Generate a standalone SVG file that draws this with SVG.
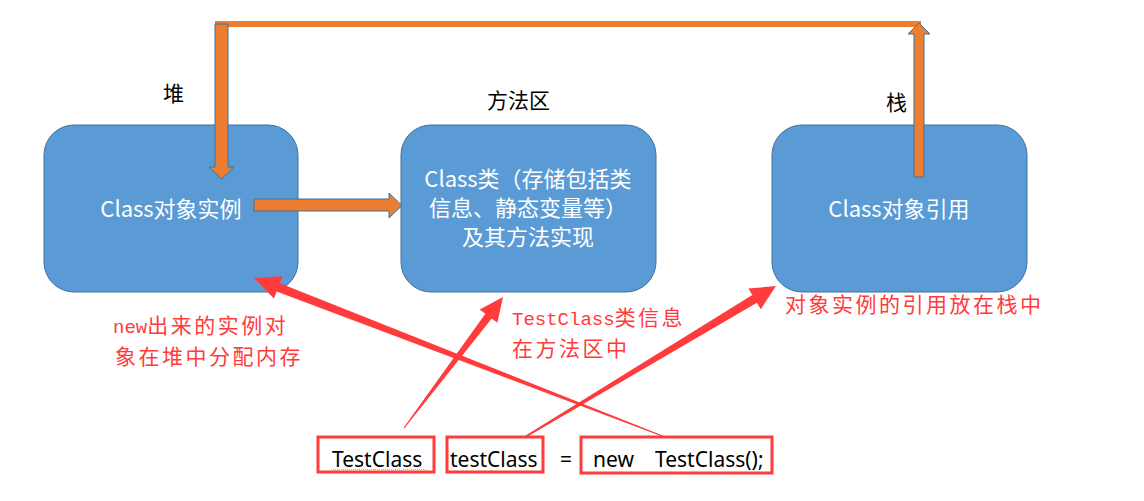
<svg xmlns="http://www.w3.org/2000/svg" width="1144" height="501" viewBox="0 0 1144 501">
<style>
.box{fill:#5B9BD5;stroke:#41719C;stroke-width:1}
.bt{font-family:"Noto Sans CJK SC","Noto Sans",sans-serif;font-size:22px;fill:#FFFFFF;text-anchor:middle}
.lbl{font-family:"Noto Sans CJK SC",sans-serif;font-size:21px;fill:#000000}
.rt{font-family:"Noto Sans CJK SC",sans-serif;font-size:21px;fill:#FF3B3B;letter-spacing:2.5px}
.mono{font-family:"Liberation Mono",monospace;font-size:19px;letter-spacing:0}
.code{font-family:"Noto Sans","Noto Sans CJK SC",sans-serif;font-size:21px;fill:#000000}
.cb{fill:none;stroke:#FF3B3B;stroke-width:3}
.oa{fill:#ED7D31;stroke:#41719C;stroke-width:1}
.ra{fill:#FF3B3B;stroke:none}
</style>
<rect width="1144" height="501" fill="#FFFFFF"/>
<g id="node-heap">
<rect class="box" x="44" y="125" width="254" height="167" rx="30"/>
<text class="bt" x="171" y="217">Class对象实例</text>
</g>
<g id="node-method">
<rect class="box" x="401" y="125" width="255" height="167" rx="30"/>
<text class="bt" x="528" y="187">Class类（存储包括类</text>
<text class="bt" x="528" y="216">信息、静态变量等）</text>
<text class="bt" x="528" y="245">及其方法实现</text>
</g>
<g id="node-stack">
<rect class="box" x="772" y="125" width="255" height="167" rx="30"/>
<text class="bt" x="899" y="217">Class对象引用</text>
</g>
<g id="labels">
<text class="lbl" x="163" y="101">堆</text>
<text class="lbl" x="487" y="108">方法区</text>
<text class="lbl" x="886" y="110">栈</text>
</g>
<g id="notes">
<text class="rt" x="113" y="333"><tspan class="mono">new</tspan>出来的实例对</text>
<text class="rt" x="115" y="364">象在堆中分配内存</text>
<text class="rt" x="512" y="325"><tspan class="mono">TestClass</tspan>类信息</text>
<text class="rt" x="512" y="356">在方法区中</text>
<text class="rt" x="785" y="312">对象实例的引用放在栈中</text>
</g>
<g id="code">
<rect class="cb" x="318" y="437" width="116" height="35"/>
<rect class="cb" x="447" y="437" width="96" height="35"/>
<rect class="cb" x="581" y="437" width="191" height="36"/>
<line x1="331" y1="469.5" x2="427" y2="469.5" stroke="#E89A9A" stroke-width="1" stroke-dasharray="1 1"/>
<text class="code" x="332" y="467">TestClass</text>
<text class="code" x="450" y="467">testClass</text>
<text class="code" x="560" y="467">=</text>
<text class="code" x="593" y="467">new</text>
<text class="code" x="655" y="467">TestClass();</text>
</g>
<g id="connectors">
<rect x="215" y="21" width="706" height="6" fill="#ED7D31"/>
<polygon class="oa" points="215,24 228,24 228,167 234,167 221.5,179 209,167 215,167"/>
<polygon class="oa" points="914,177 924,177 924,34 930,34 919,23 908,34 914,34"/>
<polygon class="oa" points="254,199 389,199 389,193 402,205.5 389,218 389,211 254,211"/>
<polygon class="ra" points="665.18,436.53 279.87,283.18 282.58,276.19 254,278 273.92,298.57 276.63,291.58 664.82,437.47"/>
<polygon class="ra" points="403.6,427.7 485.34,313.74 479.75,309.52 503,297 497.31,322.78 491.72,318.56 404.4,428.3"/>
<polygon class="ra" points="524.48,436.14 752.26,295.03 748.39,288.61 776,286 760.77,309.17 756.9,302.75 525.52,437.86"/>
</g>
</svg>
